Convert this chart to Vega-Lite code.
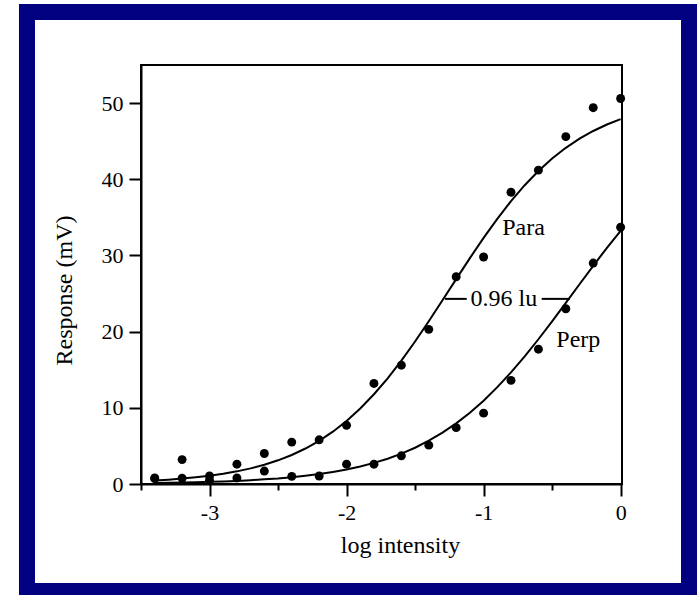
{
  "$schema": "https://vega.github.io/schema/vega-lite/v6.json",
  "width": 481,
  "height": 419,
  "autosize": "none",
  "padding": {"left": 141, "top": 65, "right": 76, "bottom": 111},
  "background": "white",
  "config": {
    "view": {"stroke": "black", "strokeWidth": 2},
    "font": "Liberation Serif",
    "axis": {
      "domainColor": "black", "domainWidth": 2, "tickColor": "black", "tickWidth": 2,
      "grid": false, "labelFont": "Liberation Serif", "labelFontSize": 22, "labelColor": "black",
      "titleFont": "Liberation Serif", "titleFontSize": 24, "titleFontWeight": "normal", "titleColor": "black",
      "zindex": 1
    }
  },
  "datasets": {
    "pts": [
      {"x": -3.4, "y": 0.8, "series": "Para"}, {"x": -3.2, "y": 3.2, "series": "Para"}, {"x": -3.0, "y": 1.05, "series": "Para"},
      {"x": -2.8, "y": 2.6, "series": "Para"}, {"x": -2.6, "y": 4.0, "series": "Para"}, {"x": -2.4, "y": 5.5, "series": "Para"},
      {"x": -2.2, "y": 5.8, "series": "Para"}, {"x": -2.0, "y": 7.7, "series": "Para"}, {"x": -1.8, "y": 13.2, "series": "Para"},
      {"x": -1.6, "y": 15.6, "series": "Para"}, {"x": -1.4, "y": 20.3, "series": "Para"}, {"x": -1.2, "y": 27.2, "series": "Para"},
      {"x": -1.0, "y": 29.8, "series": "Para"}, {"x": -0.8, "y": 38.3, "series": "Para"}, {"x": -0.6, "y": 41.2, "series": "Para"},
      {"x": -0.4, "y": 45.6, "series": "Para"}, {"x": -0.2, "y": 49.4, "series": "Para"}, {"x": 0.0, "y": 50.6, "series": "Para"},
      {"x": -3.4, "y": 0.7, "series": "Perp"}, {"x": -3.2, "y": 0.75, "series": "Perp"}, {"x": -3.0, "y": 0.5, "series": "Perp"},
      {"x": -2.8, "y": 0.8, "series": "Perp"}, {"x": -2.6, "y": 1.7, "series": "Perp"}, {"x": -2.4, "y": 1.0, "series": "Perp"},
      {"x": -2.2, "y": 1.05, "series": "Perp"}, {"x": -2.0, "y": 2.6, "series": "Perp"}, {"x": -1.8, "y": 2.6, "series": "Perp"},
      {"x": -1.6, "y": 3.7, "series": "Perp"}, {"x": -1.4, "y": 5.1, "series": "Perp"}, {"x": -1.2, "y": 7.4, "series": "Perp"},
      {"x": -1.0, "y": 9.3, "series": "Perp"}, {"x": -0.8, "y": 13.6, "series": "Perp"}, {"x": -0.6, "y": 17.7, "series": "Perp"},
      {"x": -0.4, "y": 23.0, "series": "Perp"}, {"x": -0.2, "y": 29.0, "series": "Perp"}, {"x": 0.0, "y": 33.7, "series": "Perp"}
    ],
    "curves": [
      {"x": -3.4, "y": 0.46, "series": "Para"}, {"x": -3.3, "y": 0.57, "series": "Para"}, {"x": -3.2, "y": 0.71, "series": "Para"},
      {"x": -3.1, "y": 0.88, "series": "Para"}, {"x": -3.0, "y": 1.09, "series": "Para"}, {"x": -2.9, "y": 1.34, "series": "Para"},
      {"x": -2.8, "y": 1.66, "series": "Para"}, {"x": -2.7, "y": 2.05, "series": "Para"}, {"x": -2.6, "y": 2.53, "series": "Para"},
      {"x": -2.5, "y": 3.11, "series": "Para"}, {"x": -2.4, "y": 3.81, "series": "Para"}, {"x": -2.3, "y": 4.66, "series": "Para"},
      {"x": -2.2, "y": 5.67, "series": "Para"}, {"x": -2.1, "y": 6.87, "series": "Para"}, {"x": -2.0, "y": 8.28, "series": "Para"},
      {"x": -1.9, "y": 9.91, "series": "Para"}, {"x": -1.8, "y": 11.78, "series": "Para"}, {"x": -1.7, "y": 13.87, "series": "Para"},
      {"x": -1.6, "y": 16.19, "series": "Para"}, {"x": -1.5, "y": 18.70, "series": "Para"}, {"x": -1.4, "y": 21.36, "series": "Para"},
      {"x": -1.3, "y": 24.11, "series": "Para"}, {"x": -1.2, "y": 26.89, "series": "Para"}, {"x": -1.1, "y": 29.65, "series": "Para"},
      {"x": -1.0, "y": 32.30, "series": "Para"}, {"x": -0.9, "y": 34.81, "series": "Para"}, {"x": -0.8, "y": 37.13, "series": "Para"},
      {"x": -0.7, "y": 39.22, "series": "Para"}, {"x": -0.6, "y": 41.09, "series": "Para"}, {"x": -0.5, "y": 42.72, "series": "Para"},
      {"x": -0.4, "y": 44.13, "series": "Para"}, {"x": -0.3, "y": 45.33, "series": "Para"}, {"x": -0.2, "y": 46.34, "series": "Para"},
      {"x": -0.1, "y": 47.19, "series": "Para"}, {"x": 0.0, "y": 47.89, "series": "Para"},
      {"x": -3.4, "y": 0.13, "series": "Perp"}, {"x": -3.3, "y": 0.16, "series": "Perp"}, {"x": -3.2, "y": 0.19, "series": "Perp"},
      {"x": -3.1, "y": 0.23, "series": "Perp"}, {"x": -3.0, "y": 0.28, "series": "Perp"}, {"x": -2.9, "y": 0.34, "series": "Perp"},
      {"x": -2.8, "y": 0.41, "series": "Perp"}, {"x": -2.7, "y": 0.50, "series": "Perp"}, {"x": -2.6, "y": 0.61, "series": "Perp"},
      {"x": -2.5, "y": 0.73, "series": "Perp"}, {"x": -2.4, "y": 0.89, "series": "Perp"}, {"x": -2.3, "y": 1.08, "series": "Perp"},
      {"x": -2.2, "y": 1.30, "series": "Perp"}, {"x": -2.1, "y": 1.58, "series": "Perp"}, {"x": -2.0, "y": 1.90, "series": "Perp"},
      {"x": -1.9, "y": 2.30, "series": "Perp"}, {"x": -1.8, "y": 2.77, "series": "Perp"}, {"x": -1.7, "y": 3.32, "series": "Perp"},
      {"x": -1.6, "y": 3.98, "series": "Perp"}, {"x": -1.5, "y": 4.76, "series": "Perp"}, {"x": -1.4, "y": 5.68, "series": "Perp"},
      {"x": -1.3, "y": 6.74, "series": "Perp"}, {"x": -1.2, "y": 7.96, "series": "Perp"}, {"x": -1.1, "y": 9.36, "series": "Perp"},
      {"x": -1.0, "y": 10.94, "series": "Perp"}, {"x": -0.9, "y": 12.71, "series": "Perp"}, {"x": -0.8, "y": 14.65, "series": "Perp"},
      {"x": -0.7, "y": 16.76, "series": "Perp"}, {"x": -0.6, "y": 19.00, "series": "Perp"}, {"x": -0.5, "y": 21.36, "series": "Perp"},
      {"x": -0.4, "y": 23.78, "series": "Perp"}, {"x": -0.3, "y": 26.22, "series": "Perp"}, {"x": -0.2, "y": 28.64, "series": "Perp"},
      {"x": -0.1, "y": 31.00, "series": "Perp"}, {"x": 0.0, "y": 33.24, "series": "Perp"}
    ],
    "segs": [
      {"x": -1.282, "x2": -1.123, "y": 24.3},
      {"x": -0.576, "x2": -0.37, "y": 24.3}
    ],
    "labels": [
      {"x": -0.709, "y": 32.7, "text": "Para"},
      {"x": -0.309, "y": 18.0, "text": "Perp"},
      {"x": -0.852, "y": 23.3, "text": "0.96 lu"}
    ]
  },
  "layer": [
    {
      "data": {"values": [{}]},
      "mark": {"type": "rect", "fillOpacity": 0, "stroke": "#000080", "strokeWidth": 16, "clip": false},
      "encoding": {
        "x": {"datum": -4.332, "type": "quantitative", "scale": {"domain": [-3.5, 0.01], "nice": false, "zero": false}},
        "x2": {"datum": 0.499},
        "y": {"datum": 61.96, "type": "quantitative", "scale": {"domain": [0, 55], "nice": false}},
        "y2": {"datum": -14.05}
      }
    },
    {
      "data": {"name": "curves"},
      "mark": {"type": "line", "color": "black", "strokeWidth": 2},
      "encoding": {
        "x": {"field": "x", "type": "quantitative", "scale": {"domain": [-3.5, 0.01], "nice": false, "zero": false}},
        "y": {"field": "y", "type": "quantitative", "scale": {"domain": [0, 55], "nice": false}},
        "detail": {"field": "series"}
      }
    },
    {
      "data": {"name": "pts"},
      "mark": {"type": "circle", "color": "black", "opacity": 1, "size": 80},
      "encoding": {
        "x": {
          "field": "x", "type": "quantitative",
          "scale": {"domain": [-3.5, 0.01], "nice": false, "zero": false},
          "axis": {
            "title": "log intensity",
            "values": [-3.5, -3, -2.5, -2, -1.5, -1, -0.5, 0],
            "labelExpr": "datum.value % 1 == 0 ? (datum.value < 0 ? '-' + abs(datum.value) : '' + datum.value) : ''",
            "tickSize": {"condition": {"test": "datum.value % 1 != 0", "value": 6}, "value": 12},
            "labelPadding": 6,
            "labelFlush": false,
            "titleX": 259, "titleY": 68, "titleBaseline": "alphabetic", "titleAnchor": "middle"
          }
        },
        "y": {
          "field": "y", "type": "quantitative",
          "scale": {"domain": [0, 55], "nice": false},
          "axis": {
            "title": "Response (mV)",
            "values": [0, 5, 10, 15, 20, 25, 30, 35, 40, 45, 50, 55],
            "labelExpr": "datum.value % 10 == 0 ? '' + datum.value : ''",
            "tickSize": {"condition": {"test": "datum.value % 10 != 0", "value": 6}, "value": 12},
            "labelPadding": 6,
            "labelFlush": false,
            "titleX": -77, "titleY": 225, "titleAngle": -90, "titleBaseline": "middle", "titleAlign": "center"
          }
        }
      }
    },
    {
      "data": {"name": "segs"},
      "mark": {"type": "rule", "color": "black", "strokeWidth": 2},
      "encoding": {
        "x": {"field": "x", "type": "quantitative", "scale": {"domain": [-3.5, 0.01], "nice": false, "zero": false}},
        "x2": {"field": "x2"},
        "y": {"field": "y", "type": "quantitative", "scale": {"domain": [0, 55], "nice": false}}
      }
    },
    {
      "data": {"name": "labels"},
      "mark": {"type": "text", "font": "Liberation Serif", "fontSize": 24, "color": "black", "baseline": "alphabetic", "align": "center"},
      "encoding": {
        "x": {"field": "x", "type": "quantitative", "scale": {"domain": [-3.5, 0.01], "nice": false, "zero": false}},
        "y": {"field": "y", "type": "quantitative", "scale": {"domain": [0, 55], "nice": false}},
        "text": {"field": "text"}
      }
    }
  ]
}
